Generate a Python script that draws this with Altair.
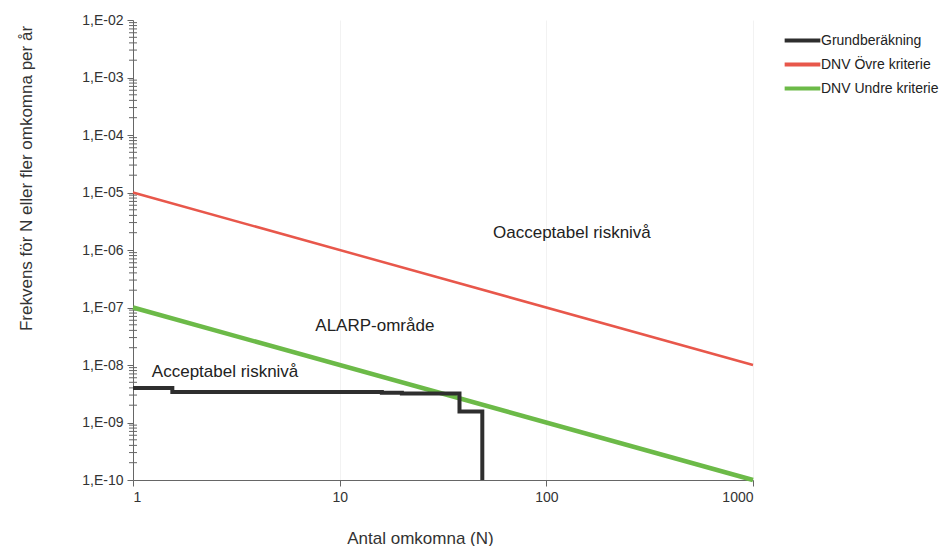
import altair as alt
import pandas as pd

# ---- data -------------------------------------------------------------
series_names = ["Grundberäkning", "DNV Övre kriterie", "DNV Undre kriterie"]
series_colors = ["#2e2e2e", "#e8574b", "#6cba48"]

base_n = [1, 1.55, 16, 20, 38, 49]
base_f = [4.0e-9, 3.4e-9, 3.3e-9, 3.2e-9, 1.55e-9, 1.0e-10]

upper_n = [1, 1000]
upper_f = [1e-5, 1e-8]

lower_n = [1, 1000]
lower_f = [1e-7, 1e-10]

x_ticks = [1, 10, 100, 1000]
y_ticks = [1e-10, 1e-9, 1e-8, 1e-7, 1e-6, 1e-5, 1e-4, 1e-3, 1e-2]
minor_mantissas = [2, 3, 4, 5, 6, 7, 8, 9]
minor_exponents = [-10, -9, -8, -7, -6, -5, -4, -3]

region_labels = ["Oacceptabel risknivå", "ALARP-område", "Acceptabel risknivå"]
region_n = [133, 14.8, 2.79]
region_f = [1.98e-6, 4.77e-8, 7.55e-9]

FONT = "Liberation Sans"

# ---- tables -----------------------------------------------------------
base_df = pd.DataFrame({"N": base_n, "F": base_f, "series": series_names[0]})
upper_df = pd.DataFrame({"N": upper_n, "F": upper_f, "series": series_names[1]})
lower_df = pd.DataFrame({"N": lower_n, "F": lower_f, "series": series_names[2]})
minor_df = pd.DataFrame({"F": [m * 10.0 ** e for e in minor_exponents for m in minor_mantissas]})
text_df = pd.DataFrame({"N": region_n, "F": region_f, "label": region_labels})

# ---- encodings --------------------------------------------------------
x_enc = alt.X(
    "N:Q",
    scale=alt.Scale(type="log", domain=[1, 1000], nice=False),
    axis=alt.Axis(
        values=x_ticks,
        format="d",
        title="Antal omkomna (N)",
        titleFont=FONT,
        titleFontSize=17,
        titleFontWeight="normal",
        titleColor="#333333",
        titleX=287,
        titleY=58,
        titleAlign="center",
        titleBaseline="middle",
        labelFont=FONT,
        labelFontSize=14,
        labelColor="#333333",
        labelPadding=4,
        tickSize=6,
        tickColor="#666666",
        domainColor="#666666",
        grid=True,
        gridColor="#f2f2f2",
    ),
)

y_enc = alt.Y(
    "F:Q",
    scale=alt.Scale(type="log", domain=[1e-10, 1e-2], nice=False),
    axis=alt.Axis(
        values=y_ticks,
        labelExpr="'1,E' + (round(log(datum.value)/LN10) < 0 ? '-' : '+') + (abs(round(log(datum.value)/LN10)) < 10 ? '0' : '') + abs(round(log(datum.value)/LN10))",
        title="Frekvens för N eller fler omkomna per år",
        titleFont=FONT,
        titleFontSize=17,
        titleFontWeight="normal",
        titleColor="#333333",
        titleX=-107,
        titleY=158,
        titleAngle=270,
        titleAlign="center",
        titleBaseline="middle",
        labelFont=FONT,
        labelFontSize=14,
        labelColor="#333333",
        labelPadding=4,
        tickSize=6,
        tickColor="#666666",
        domainColor="#666666",
        grid=False,
    ),
)

color_enc = alt.Color(
    "series:N",
    scale=alt.Scale(domain=series_names, range=series_colors),
    legend=alt.Legend(
        title=None,
        orient="none",
        legendX=657,
        legendY=8,
        padding=0,
        symbolType="M-1.7,0H1.7",
        symbolSize=441,
        symbolStrokeWidth=4,
        labelOffset=6,
        labelFont=FONT,
        labelFontSize=14,
        labelColor="#222222",
        labelLimit=200,
        rowPadding=3,
    ),
)

# ---- layers -----------------------------------------------------------
minor_ticks = alt.Chart(minor_df).mark_rule(color="#666666", strokeWidth=1).encode(
    y=y_enc, x=alt.value(-4), x2=alt.value(4)
)

upper_line = alt.Chart(upper_df).mark_line(strokeWidth=2.5).encode(
    x=x_enc, y=y_enc, color=color_enc
)
lower_line = alt.Chart(lower_df).mark_line(strokeWidth=4.5).encode(
    x=x_enc, y=y_enc, color=color_enc
)
base_line = alt.Chart(base_df).mark_line(
    strokeWidth=4, interpolate="step-after", strokeJoin="miter"
).encode(x=x_enc, y=y_enc, color=color_enc)

texts = alt.Chart(text_df).mark_text(
    font=FONT, fontSize=17, color="#222222", align="center", baseline="middle"
).encode(x=x_enc, y=y_enc, text="label:N")

chart = (
    alt.layer(minor_ticks, upper_line, lower_line, base_line, texts)
    .properties(
        width=620,
        height=460,
        padding={"left": 125, "top": 12, "right": 189, "bottom": 66},
        autosize=alt.AutoSizeParams(type="none"),
        background="white",
    )
    .configure_view(stroke=None)
)

chart.save("out.html", embed_options={"renderer": "svg", "actions": False})
